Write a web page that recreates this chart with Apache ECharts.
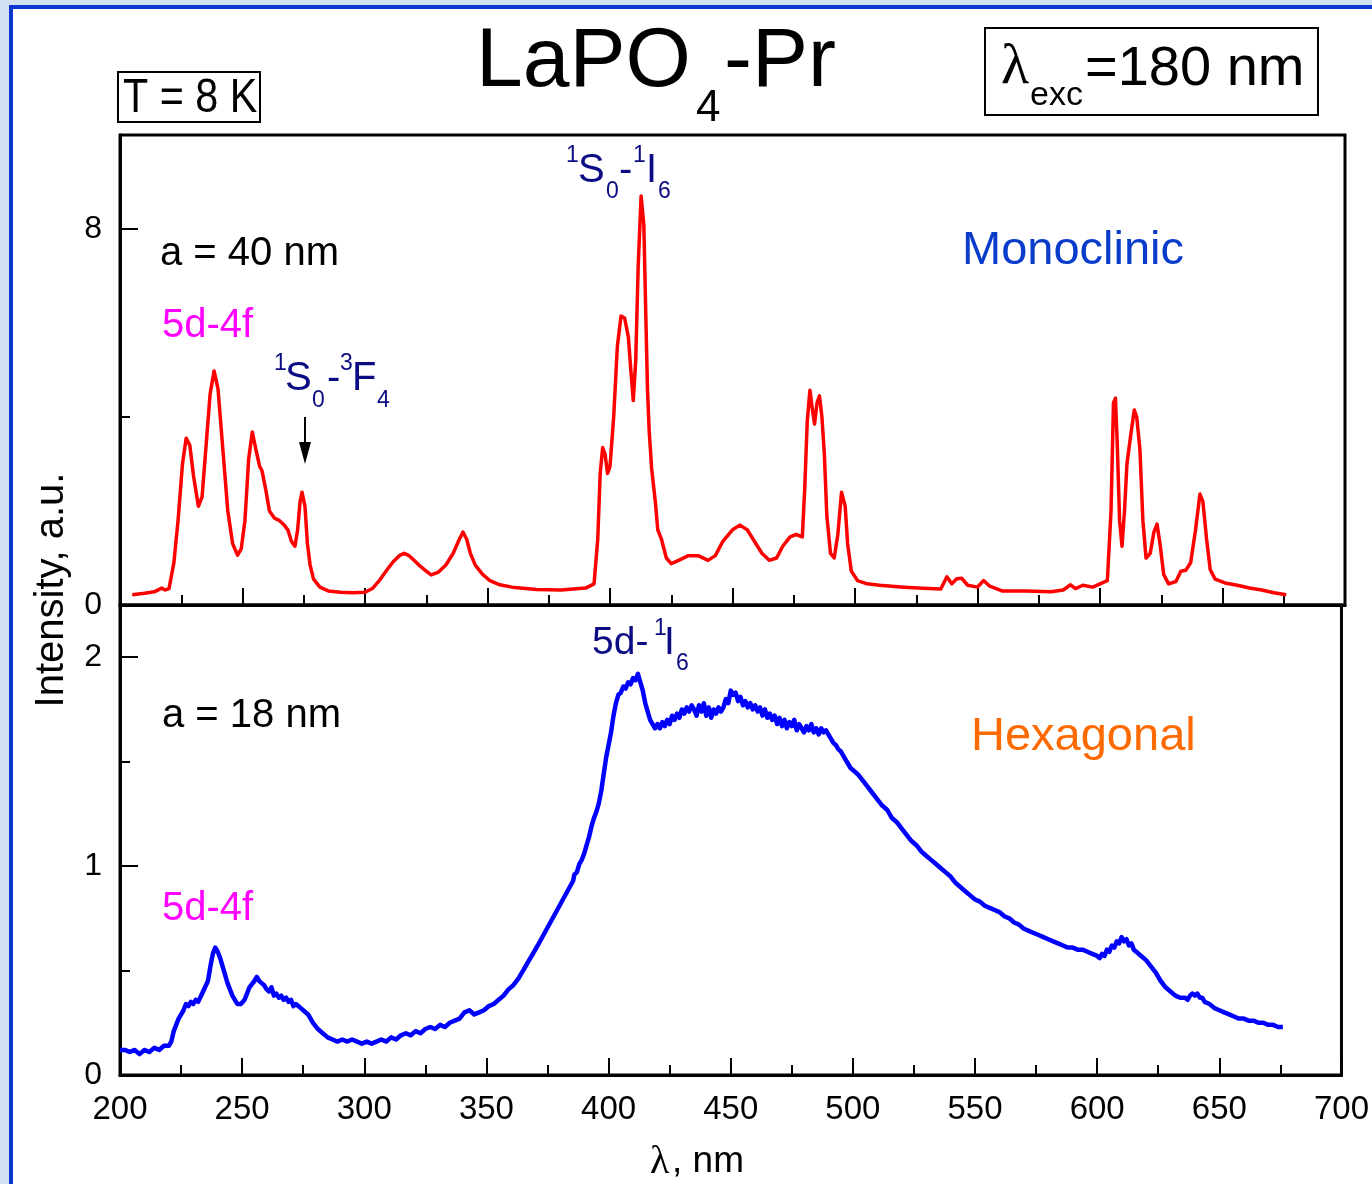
<!DOCTYPE html>
<html>
<head>
<meta charset="utf-8">
<script src="https://cdn.jsdelivr.net/npm/echarts@6/dist/echarts.min.js"></script>
<style>
  html, body { margin: 0; padding: 0; width: 1372px; height: 1184px; overflow: hidden; background: #d3e2f2; }
  #frame { position: absolute; left: 9px; top: 5px; width: 1363px; height: 1179px; background: #fff;
           border-left: 4px solid #0a35cf; border-top: 4px solid #0a35cf; box-sizing: border-box; }
  #chart { position: absolute; left: 0; top: 0; width: 1372px; height: 1184px; }
</style>
</head>
<body>
<div id="frame"></div>
<div id="chart"></div>
<script>
// ---------------- DATA ----------------
// Monoclinic (a = 40 nm), upper panel: [wavelength nm, intensity a.u.]
const monoData = [
  [205,0.22],[210,0.25],[214,0.28],[217,0.36],[218.5,0.32],[220,0.35],[222,0.9],[223.7,1.8],[225.5,3.0],[227,3.55],
  [228.5,3.4],[230,2.75],[232,2.1],[233.5,2.3],[235,3.3],[236.8,4.5],[238.4,4.98],[240,4.6],[242,3.3],[244,2.0],
  [246,1.3],[248,1.06],[249.5,1.2],[251,1.8],[252.5,3.1],[254,3.68],[255.5,3.3],[257,2.95],[258,2.85],[259.5,2.45],
  [261,2.0],[263,1.85],[265,1.8],[267,1.7],[268.5,1.6],[270,1.35],[271.4,1.25],[272.5,1.6],[273.5,2.2],[274.3,2.4],
  [275.5,2.1],[276.5,1.3],[277.6,0.85],[279,0.55],[281.6,0.38],[285,0.3],[290,0.27],[295,0.26],[300,0.27],[303,0.35],
  [306,0.53],[309,0.75],[311.5,0.92],[314,1.05],[316,1.1],[318,1.05],[320,0.95],[322,0.85],[325,0.72],[327,0.64],
  [330,0.7],[333,0.85],[336,1.1],[338.5,1.4],[340,1.55],[341.5,1.4],[343,1.1],[345,0.85],[348,0.65],[351,0.52],
  [355,0.43],[360,0.38],[370,0.33],[380,0.32],[390,0.36],[393.5,0.45],[395,1.4],[396,2.8],[397,3.35],[398,3.2],
  [399,2.8],[400,2.95],[401.5,4.0],[403,5.5],[404.5,6.15],[406,6.1],[407.5,5.7],[408.5,5.0],[409.5,4.35],[410.5,5.2],
  [411.5,7.2],[412.7,8.7],[413.8,8.1],[414.6,6.2],[415.3,4.6],[416,3.7],[417,2.9],[418.5,2.2],[419.5,1.6],[421,1.4],
  [423,1.0],[425,0.88],[428,0.95],[432,1.05],[436,1.05],[440,0.95],[443,1.05],[446,1.35],[450,1.6],[453,1.7],
  [456,1.6],[459,1.35],[462,1.1],[465,0.95],[468,1.0],[470.5,1.25],[473.5,1.45],[476,1.5],[478.5,1.45],[479.5,2.5],
  [480.5,3.9],[481.6,4.57],[482.5,4.2],[483.5,3.85],[484.5,4.3],[485.5,4.45],[486.5,4.0],[487.5,3.2],[488.5,1.9],[490,1.1],
  [491.5,1.0],[493,1.5],[494.5,2.4],[496,2.1],[497,1.3],[498.5,0.72],[501,0.52],[505,0.45],[510,0.42],[520,0.38],
  [530,0.35],[535,0.34],[537.5,0.6],[539.5,0.45],[541.5,0.56],[543.5,0.57],[546,0.42],[550,0.38],[552.5,0.52],[555,0.4],
  [560,0.3],[570,0.3],[580,0.28],[585,0.32],[588,0.43],[590,0.35],[593,0.42],[597,0.38],[600,0.45],[603,0.52],
  [604.5,2.0],[605.5,4.3],[606.3,4.4],[607,3.5],[608,1.8],[609,1.25],[610,2.0],[611,3.0],[612.5,3.6],[614,4.15],
  [615,4.0],[616.3,3.3],[617.5,1.8],[618.8,1.0],[620.5,1.1],[622,1.55],[623.3,1.72],[624.5,1.3],[626,0.65],[628,0.45],
  [631,0.5],[633,0.72],[635,0.74],[637,0.9],[639,1.6],[640.8,2.36],[642,2.2],[643.5,1.4],[645,0.75],[647,0.55],
  [651,0.47],[656,0.42],[661,0.36],[666,0.32],[671,0.26],[676,0.22]
];

// Hexagonal (a = 18 nm), lower panel: [wavelength nm, intensity a.u.]
const hexData = [
  [200,0.12],[202,0.12],[204,0.11],[206,0.12],[208,0.10],[210,0.12],[212,0.11],[214,0.13],[216,0.12],[218,0.14],
  [220,0.14],[221,0.16],[222,0.21],[223,0.24],[224,0.27],[226,0.31],[227,0.34],[228,0.33],[229,0.35],[230,0.34],
  [231,0.36],[232,0.35],[234,0.40],[236,0.45],[237,0.52],[238,0.58],[239,0.61],[240,0.59],[241,0.56],[242,0.52],
  [243,0.48],[244,0.44],[246,0.38],[248,0.34],[249.5,0.34],[251,0.36],[252,0.39],[253,0.42],[255,0.45],[256,0.47],
  [257,0.45],[258,0.44],[259,0.43],[260,0.41],[261,0.40],[262,0.42],[263,0.38],[264,0.39],[265,0.37],[266,0.38],
  [267,0.36],[268,0.37],[269,0.35],[270,0.36],[271,0.33],[272,0.34],[273,0.33],[274,0.32],[275,0.31],[277,0.29],
  [279,0.25],[281,0.22],[283,0.20],[285,0.18],[287,0.17],[289,0.16],[291,0.17],[293,0.16],[295,0.17],[297,0.16],
  [299,0.15],[301,0.16],[303,0.15],[305,0.16],[307,0.17],[309,0.16],[311,0.18],[313,0.17],[315,0.19],[317,0.20],
  [319,0.19],[321,0.21],[323,0.20],[325,0.22],[327,0.23],[329,0.22],[331,0.24],[333,0.23],[335,0.25],[337,0.26],
  [339,0.27],[341,0.30],[343,0.31],[345,0.29],[347,0.30],[349,0.31],[351,0.33],[353,0.34],[355,0.36],[357,0.38],
  [359,0.41],[361,0.43],[363,0.46],[365,0.50],[367,0.54],[369,0.58],[371,0.62],[385.5,0.93],[386,0.96],[387,0.97],
  [388,1.01],[389,1.03],[390,1.06],[391,1.10],[392,1.14],[393,1.19],[394,1.23],[395,1.26],[396,1.30],[397,1.36],
  [398,1.44],[399,1.52],[400,1.58],[401,1.64],[402,1.72],[403,1.78],[404,1.82],[405,1.83],[406,1.86],[407,1.85],
  [408,1.88],[409,1.87],[410,1.90],[411,1.89],[412,1.92],[413,1.88],[414,1.84],[415,1.78],[416,1.74],[417,1.70],
  [418,1.68],[419,1.66],[420,1.68],[421,1.66],[422,1.69],[423,1.67],[424,1.70],[425,1.68],[426,1.72],[427,1.70],
  [428,1.73],[429,1.71],[430,1.75],[431,1.73],[432,1.76],[433,1.74],[434,1.77],[435,1.75],[436,1.72],[437,1.77],
  [438,1.74],[439,1.78],[440,1.72],[441,1.76],[442,1.71],[443,1.75],[444,1.73],[445,1.76],[446,1.74],[447,1.76],
  [448,1.80],[449,1.78],[450,1.84],[451,1.82],[452,1.83],[453,1.79],[454,1.81],[455,1.77],[456,1.79],[457,1.76],
  [458,1.78],[459,1.75],[460,1.77],[461,1.74],[462,1.76],[463,1.72],[464,1.75],[465,1.71],[466,1.73],[467,1.70],
  [468,1.72],[469,1.68],[470,1.71],[471,1.67],[472,1.70],[473,1.66],[474,1.69],[475,1.67],[476,1.70],[477,1.65],
  [478,1.68],[479,1.66],[480,1.64],[481,1.67],[482,1.65],[483,1.68],[484,1.64],[485,1.66],[486,1.63],[487,1.66],
  [488,1.64],[489,1.65],[490,1.63],[491,1.61],[492,1.59],[493,1.58],[494,1.56],[495,1.55],[496,1.53],[497,1.51],
  [498,1.49],[499,1.47],[500,1.46],[502,1.44],[504,1.41],[506,1.38],[508,1.35],[510,1.32],[512,1.29],[514,1.27],
  [516,1.23],[518,1.21],[520,1.18],[522,1.15],[524,1.12],[526,1.10],[528,1.07],[530,1.05],[532,1.03],[534,1.01],
  [536,0.99],[538,0.97],[540,0.95],[542,0.92],[544,0.90],[546,0.88],[548,0.86],[550,0.84],[552,0.83],[554,0.81],
  [556,0.80],[558,0.79],[560,0.78],[562,0.76],[564,0.75],[566,0.73],[568,0.72],[570,0.70],[572,0.69],[574,0.68],
  [576,0.67],[578,0.66],[580,0.65],[582,0.64],[584,0.63],[586,0.62],[588,0.61],[590,0.61],[592,0.60],[594,0.60],
  [596,0.59],[598,0.58],[600,0.57],[601,0.56],[602,0.58],[603,0.57],[604,0.60],[605,0.59],[606,0.62],[607,0.61],
  [608,0.64],[609,0.63],[610,0.66],[611,0.64],[612,0.65],[613,0.62],[614,0.63],[615,0.60],[616,0.59],[618,0.57],
  [620,0.55],[622,0.52],[624,0.49],[626,0.45],[628,0.42],[630,0.40],[632,0.38],[634,0.37],[636,0.37],[637,0.36],
  [638,0.38],[639,0.39],[640,0.38],[641,0.39],[642,0.37],[643,0.37],[644,0.35],[646,0.34],[648,0.32],[650,0.31],
  [652,0.30],[654,0.29],[656,0.28],[658,0.27],[660,0.27],[662,0.26],[664,0.26],[666,0.25],[668,0.25],[670,0.24],
  [672,0.24],[674,0.23],[676,0.23]
];

// Axis tick values
const xTicksMajor = 50;     // nm step of labelled ticks
const yTopMax = 10, yTopStep = 8, yTopMinor = 4;
const yBotMax = 2.25, yBotStep = 1, yBotMinor = 0.5;

// ---------------- CHART ----------------
const SANS = '"Liberation Sans", Arial, Helvetica, sans-serif';
const SERIF = '"Liberation Serif", "Times New Roman", serif';
const chart = echarts.init(document.getElementById('chart'), null, { renderer: 'canvas' });

function txt(x, y, text, size, color, opts) {
  opts = opts || {};
  return {
    type: 'text', x: x, y: y, z: 100,
    rotation: opts.rotation || 0,
    scaleX: opts.scaleX || 1,
    style: {
      text: text, fill: color || '#000',
      font: (opts.weight || 'normal') + ' ' + size + 'px ' + (opts.family || SANS),
      align: opts.align || 'left', textAlign: opts.align || 'left',
      verticalAlign: 'middle', textVerticalAlign: 'middle'
    }
  };
}

const NAVY = '#0b0b84';
const axisBlack = { color: '#000', width: 3 };
const tickBlack = { color: '#000', width: 2 };

function xAxisCfg(grid, labels) {
  return {
    gridIndex: grid, type: 'value', min: 200, max: 700, interval: xTicksMajor,
    axisLine: { show: true, lineStyle: axisBlack, onZero: false },
    axisTick: { show: true, inside: true, length: 17, lineStyle: tickBlack },
    minorTick: { show: true, splitNumber: 2, length: 10, lineStyle: tickBlack },
    axisLabel: { show: labels, color: '#000', fontSize: 33, fontFamily: SANS, margin: 18 },
    splitLine: { show: false }
  };
}
function yMajor(grid, max, step) {
  return {
    gridIndex: grid, type: 'value', position: 'left', min: 0, max: max, interval: step,
    axisLine: { show: true, lineStyle: axisBlack, onZero: false },
    axisTick: { show: true, inside: true, length: 18, lineStyle: tickBlack },
    axisLabel: { show: true, showMaxLabel: false, color: '#000', fontSize: 32, fontFamily: SANS, margin: 18 },
    splitLine: { show: false }
  };
}
function yMinor(grid, max, step) {
  return {
    gridIndex: grid, type: 'value', position: 'left', offset: 0, min: 0, max: max, interval: step,
    axisLine: { show: false },
    axisTick: { show: true, inside: true, length: 10, lineStyle: tickBlack },
    axisLabel: { show: false },
    splitLine: { show: false }
  };
}

const graphics = [
  // title
  txt(476, 63, 'LaPO', 84),
  txt(696, 109, '4', 44),
  txt(724, 63, '-Pr', 84),
  // T = 8 K box
  { type: 'rect', z: 100, shape: { x: 118, y: 72, width: 142, height: 50 }, style: { fill: 'none', stroke: '#000', lineWidth: 2 } },
  txt(123, 99, 'T = 8 K', 48, '#000', { scaleX: 0.86 }),
  // lambda exc box
  { type: 'rect', z: 100, shape: { x: 985, y: 28, width: 333, height: 87 }, style: { fill: 'none', stroke: '#000', lineWidth: 2 } },
  txt(1001, 68, 'λ', 58, '#000', { family: SERIF }),
  txt(1030, 96, 'exc', 34),
  txt(1085, 70, '=180 nm', 56),
  // panel annotations
  txt(160, 254, 'a = 40 nm', 40),
  txt(162, 326, '5d-4f', 40, '#ff00ff'),
  txt(962, 251, 'Monoclinic', 47, '#0a3ccc'),
  txt(162, 716, 'a = 18 nm', 40),
  txt(162, 909, '5d-4f', 40, '#ff00ff'),
  txt(971, 737, 'Hexagonal', 47, '#ff6a00'),
  // 1S0-3F4
  txt(274, 364, '1', 23, NAVY),
  txt(285, 379, 'S', 40, NAVY),
  txt(312, 401, '0', 23, NAVY),
  txt(327, 379, '-', 40, NAVY),
  txt(340, 364, '3', 23, NAVY),
  txt(352, 379, 'F', 40, NAVY),
  txt(377, 401, '4', 23, NAVY),
  // arrow
  { type: 'line', z: 100, shape: { x1: 305, y1: 417, x2: 305, y2: 448 }, style: { stroke: '#000', lineWidth: 2 } },
  { type: 'polygon', z: 100, shape: { points: [[299, 442], [311, 442], [305, 464]] }, style: { fill: '#000' } },
  // 1S0-1I6
  txt(566, 156, '1', 23, NAVY),
  txt(578, 171, 'S', 40, NAVY),
  txt(606, 192, '0', 23, NAVY),
  txt(619, 171, '-', 40, NAVY),
  txt(633, 156, '1', 23, NAVY),
  txt(646, 171, 'I', 40, NAVY),
  txt(658, 192, '6', 23, NAVY),
  // 5d-1I6
  txt(592, 643, '5d-', 39, NAVY),
  txt(654, 629, '1', 23, NAVY),
  txt(664, 643, 'I', 39, NAVY),
  txt(676, 664, '6', 23, NAVY),
  // axis titles
  txt(52, 590, 'Intensity, a.u.', 40, '#000', { rotation: Math.PI / 2, align: 'center' }),
  txt(650, 1162, 'λ', 40, '#000', { family: SERIF }),
  txt(672, 1162, ', nm', 37)
];

chart.setOption({
  animation: false,
  backgroundColor: 'transparent',
  grid: [
    { left: 120, top: 135, width: 1225, height: 470, show: true, borderColor: '#000', borderWidth: 3, backgroundColor: 'transparent' },
    { left: 120, top: 605, width: 1225, height: 470, show: true, borderColor: '#000', borderWidth: 3, backgroundColor: 'transparent' }
  ],
  xAxis: [xAxisCfg(0, false), xAxisCfg(1, true)],
  yAxis: [yMajor(0, yTopMax, yTopStep), yMinor(0, yTopMax, yTopMinor), yMajor(1, yBotMax, yBotStep), yMinor(1, yBotMax, yBotMinor)],
  series: [
    { name: 'Monoclinic', type: 'line', xAxisIndex: 0, yAxisIndex: 0, data: monoData,
      showSymbol: false, symbol: 'none', lineStyle: { color: '#ff0000', width: 3.5, join: 'round' }, z: 5 },
    { name: 'Hexagonal', type: 'line', xAxisIndex: 1, yAxisIndex: 2, data: hexData,
      showSymbol: false, symbol: 'none', lineStyle: { color: '#0000ff', width: 4.5, join: 'round' }, z: 5 }
  ],
  graphic: graphics
});
</script>
</body>
</html>
